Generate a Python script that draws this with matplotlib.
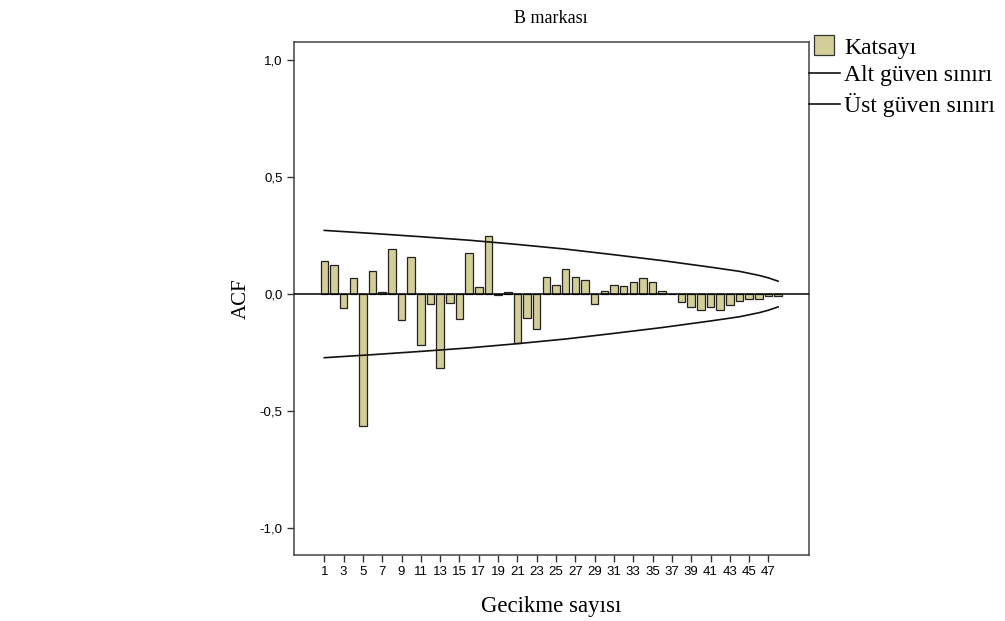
import numpy as np
import matplotlib.pyplot as plt
from matplotlib.lines import Line2D

# ACF coefficients, lags 1..48
lags = list(range(1, 49))
acf = [0.143, 0.126, -0.059, 0.070, -0.562, 0.100, 0.010, 0.193, -0.113, 0.157,
       -0.218, -0.044, -0.315, -0.037, -0.107, 0.174, 0.029, 0.250, -0.003, 0.007,
       -0.208, -0.101, -0.151, 0.074, 0.038, 0.107, 0.073, 0.060, -0.043, 0.014,
       0.037, 0.036, 0.053, 0.070, 0.051, 0.011, 0.002, -0.036, -0.057, -0.068,
       -0.056, -0.068, -0.047, -0.030, -0.023, -0.023, -0.008, -0.008]

# confidence limits read at a few lags
ci_lags = [1, 6, 11, 16, 21, 26, 31, 36, 41, 44, 46, 47, 48]
upper = [0.272, 0.259, 0.245, 0.230, 0.212, 0.192, 0.168, 0.143, 0.115, 0.097, 0.080, 0.069, 0.055]
lower = [-v for v in upper]

tick_lags = list(range(1, 48, 2))
yticks = [-1.0, -0.5, 0.0, 0.5, 1.0]
ytick_labels = ["-1,0", "-0,5", "0,0", "0,5", "1,0"]

bar_color = "#d3ce97"
serif = ["Liberation Serif", "DejaVu Serif"]
sans = ["Liberation Sans", "DejaVu Sans"]

fig = plt.figure(figsize=(10.05, 6.21), dpi=100)
W, H = 1005, 621
ax = fig.add_axes([293.5 / W, 1 - 555 / H, (809 - 293.5) / W, (555 - 42) / H])

ax.bar(lags, acf, width=0.78, color=bar_color, edgecolor="#222222", linewidth=0.9, zorder=2)
ax.axhline(0, color="black", linewidth=1.1, zorder=3)
ax.plot(ci_lags, upper, color="#111111", linewidth=1.2, zorder=4)
ax.plot(ci_lags, lower, color="#111111", linewidth=1.2, zorder=4)

ax.set_xlim(-2.19, 51.2)
ax.set_ylim(-1.115, 1.077)
ax.set_xticks(tick_lags)
ax.set_xticklabels([str(t) for t in tick_lags], family=sans, fontsize=9.5)
ax.set_yticks(yticks)
ax.set_yticklabels(ytick_labels, family=sans, fontsize=9.5)
ax.tick_params(direction="out", length=5, width=1, color="#333333", pad=3)
for s in ax.spines.values():
    s.set_color("#444444")
    s.set_linewidth(1.1)

ax.set_title("B markası", family=serif, fontsize=13, pad=14)
ax.set_xlabel("Gecikme sayısı", family=serif, fontsize=16.5, labelpad=13)
ax.set_ylabel("ACF", family=serif, fontsize=15, labelpad=6)

handles = [Line2D([], [], marker="s", markersize=14, markerfacecolor=bar_color,
                  markeredgecolor="#333333", markeredgewidth=0.9, linestyle="none"),
           Line2D([0], [0], color="#111111", linewidth=1.2),
           Line2D([0], [0], color="#111111", linewidth=1.2)]
labels = ["Katsayı", "Alt güven sınırı", "Üst güven sınırı"]
fig.legend(handles, labels, loc="upper left", bbox_to_anchor=(809 / W, 1 - 37 / H),
           frameon=False, prop={"family": serif, "size": 17},
           handlelength=1.3, handletextpad=0.2, labelspacing=0.27,
           borderpad=0, borderaxespad=0)

fig.savefig("out.png", dpi=100)
